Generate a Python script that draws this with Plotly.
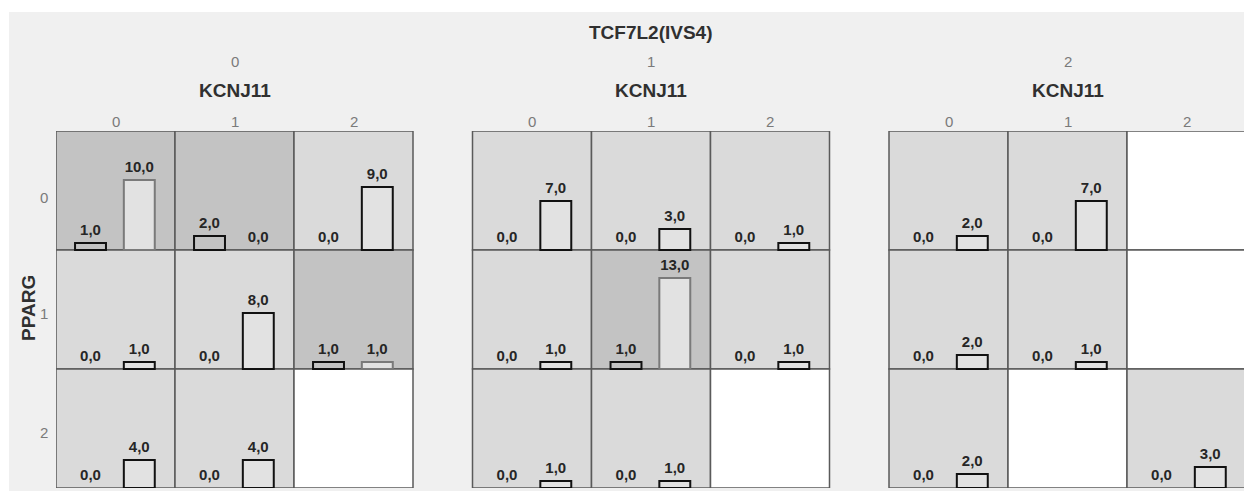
import plotly.graph_objects as go

# ---- data ----
tcf_levels = ["0", "1", "2"]        # TCF7L2(IVS4) panels
kcnj_levels = ["0", "1", "2"]       # KCNJ11 columns
pparg_levels = ["0", "1", "2"]      # PPARG rows
# counts[panel][row][col]; None = empty cell
group_a = [
    [[1, 2, 0], [0, 0, 1], [0, 0, None]],
    [[0, 0, 0], [0, 1, 0], [0, 0, None]],
    [[0, 0, None], [0, 0, None], [0, None, 0]],
]
group_b = [
    [[10, 0, 9], [1, 8, 1], [4, 4, None]],
    [[7, 3, 1], [1, 13, 1], [1, 1, None]],
    [[2, 7, None], [2, 1, None], [2, None, 3]],
]

# ---- geometry ----
ROW_H = 17.0                      # data units per row
PANEL_STEP = 3.5                  # panel width (3) + gap
OFF_A, OFF_B, BAR_W = 0.29, 0.70, 0.26
W, H = 1244, 491
PLOT_L, PLOT_T, PLOT_B = 56, 131, 488
ML, MT, MB = PLOT_L, PLOT_T, H - PLOT_B
plot_w = W - ML
plot_h = PLOT_B - PLOT_T
PX_X = 119.0
x_end = plot_w / PX_X

DARK, LIGHT, EMPTY = "#c3c3c3", "#dadada", "#ffffff"
FONT = "Liberation Sans, Arial, sans-serif"

def fmt(v):
    return f"{v:.1f}".replace(".", ",")

def sx(px):  # screen x -> paper
    return (px - PLOT_L) / plot_w

def sy(px):  # screen y -> paper
    return (PLOT_B - px) / plot_h

shapes = []
shapes.append(dict(type="rect", xref="paper", yref="paper", layer="below",
                   x0=sx(9), x1=1.05, y0=-0.1, y1=sy(12),
                   fillcolor="#f0f0f0", line=dict(width=0)))

ax, ay, abase, atext_y, atext, a_lw = [], [], [], [], [], []
bx, by, bbase, btext_y, btext, bline, b_lw = [], [], [], [], [], [], []
LBL_GAP = 11.5 / 7.0   # label centre above bar top

for p in range(3):
    for r in range(3):
        base = (2 - r) * ROW_H
        for c in range(3):
            x0 = p * PANEL_STEP + c
            a = group_a[p][r][c]
            b = group_b[p][r][c]
            if a is None:
                fill = EMPTY
            elif a > 0:
                fill = DARK
            else:
                fill = LIGHT
            shapes.append(dict(type="rect", xref="x", yref="y", layer="below",
                               x0=x0, x1=x0 + 1, y0=base, y1=base + ROW_H,
                               fillcolor=fill, line=dict(color="#5a5a5a", width=1.5)))
            if a is None:
                continue
            ax.append(x0 + OFF_A); ay.append(a); abase.append(base)
            a_lw.append(2 if a > 0 else 0)
            atext_y.append(base + a + LBL_GAP); atext.append(fmt(a))
            bx.append(x0 + OFF_B); by.append(b); bbase.append(base)
            b_lw.append(2 if b > 0 else 0)
            bline.append("#7a7a7a" if a > 0 else "#111111")
            btext_y.append(base + b + LBL_GAP); btext.append(fmt(b))

fig = go.Figure()
fig.add_trace(go.Bar(x=ax, y=ay, base=abase, width=BAR_W,
                     marker=dict(color="rgba(0,0,0,0)",
                                 line=dict(color="#111111", width=a_lw)),
                     hoverinfo="skip", showlegend=False))
fig.add_trace(go.Bar(x=bx, y=by, base=bbase, width=BAR_W,
                     marker=dict(color="#e2e2e2",
                                 line=dict(color=bline, width=b_lw)),
                     hoverinfo="skip", showlegend=False))
lbl_font = dict(family=FONT, size=15, color="#262626")
fig.add_trace(go.Scatter(x=ax, y=atext_y, text=["<b>%s</b>" % t for t in atext],
                         mode="text", textposition="middle center",
                         textfont=lbl_font, cliponaxis=False,
                         hoverinfo="skip", showlegend=False))
fig.add_trace(go.Scatter(x=bx, y=btext_y, text=["<b>%s</b>" % t for t in btext],
                         mode="text", textposition="middle center",
                         textfont=lbl_font, cliponaxis=False,
                         hoverinfo="skip", showlegend=False))

ann = []
font_grey = dict(family=FONT, size=15, color="#7a7a7a")
font_bold = dict(family=FONT, size=19, color="#303030")
ann.append(dict(text="<b>TCF7L2(IVS4)</b>", x=PANEL_STEP + 1.5, y=sy(32),
                xref="x", yref="paper", showarrow=False, font=font_bold,
                xanchor="center", yanchor="middle"))
for p, lv in enumerate(tcf_levels):
    cx = p * PANEL_STEP + 1.5
    ann.append(dict(text=lv, x=cx, y=sy(61), xref="x", yref="paper",
                    showarrow=False, font=font_grey, xanchor="center", yanchor="middle"))
    ann.append(dict(text="<b>KCNJ11</b>", x=cx, y=sy(91), xref="x", yref="paper",
                    showarrow=False, font=font_bold, xanchor="center", yanchor="middle"))
    for c, kv in enumerate(kcnj_levels):
        ann.append(dict(text=kv, x=p * PANEL_STEP + c + 0.5, y=sy(121), xref="x",
                        yref="paper", showarrow=False, font=font_grey,
                        xanchor="center", yanchor="middle"))
row_label_y = [197, 313, 432]
for r, rv in enumerate(pparg_levels):
    ann.append(dict(text=rv, x=sx(44), y=sy(row_label_y[r]),
                    xref="paper", yref="paper", showarrow=False, font=font_grey,
                    xanchor="center", yanchor="middle"))
ann.append(dict(text="<b>PPARG</b>", x=sx(28), y=sy(308), xref="paper",
                yref="paper", showarrow=False, font=font_bold, textangle=-90,
                xanchor="center", yanchor="middle"))

fig.update_layout(
    width=W, height=H,
    margin=dict(l=ML, r=0, t=MT, b=MB, pad=0),
    paper_bgcolor="#ffffff", plot_bgcolor="rgba(0,0,0,0)",
    barmode="overlay", bargap=0,
    shapes=shapes, annotations=ann,
    xaxis=dict(range=[0, x_end], visible=False, fixedrange=True),
    yaxis=dict(range=[0, 3 * ROW_H], visible=False, fixedrange=True),
    showlegend=False,
)
fig.write_html("out.html",
               config={"displayModeBar": False, "staticPlot": True},
               post_script="document.body.style.margin='0';"
                           "document.body.style.overflow='hidden';")
